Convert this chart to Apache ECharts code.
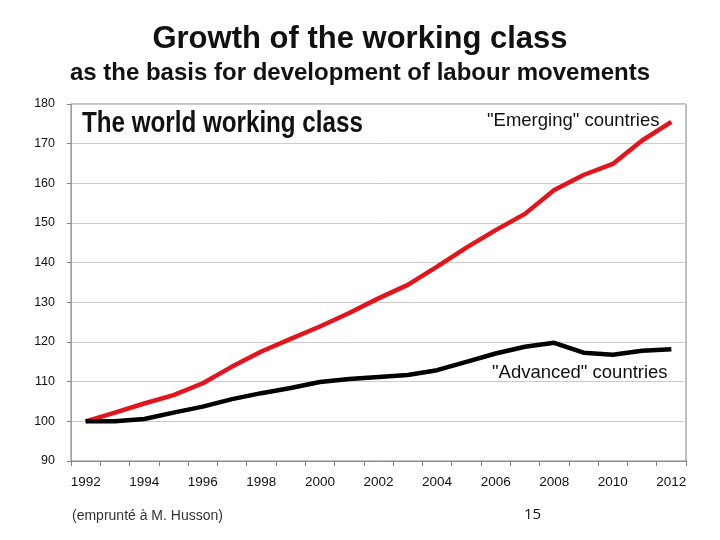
<!DOCTYPE html>
<html><head><meta charset="utf-8">
<script src="https://cdn.jsdelivr.net/npm/echarts@6/dist/echarts.min.js"></script>
<style>html,body{margin:0;padding:0;background:#fff}#c{width:720px;height:540px}</style>
</head><body><div id="c"></div>
<script>
const years = ['1992','1993','1994','1995','1996','1997','1998','1999','2000','2001','2002','2003','2004','2005','2006','2007','2008','2009','2010','2011','2012'];
const emerging = [100,102.2,104.5,106.6,109.6,113.8,117.6,120.8,123.9,127.3,131,134.4,139,143.8,148.2,152.3,158.3,162.1,164.9,170.8,175.5];
const advanced = [100,100,100.6,102.2,103.7,105.6,107.1,108.4,109.9,110.7,111.2,111.7,112.9,115,117.1,118.8,119.8,117.3,116.8,117.8,118.2];
const yTicks = {min:90, max:180, interval:10};

const chart = echarts.init(document.getElementById('c'), null, {renderer:'canvas'});
chart.setOption({
  animation:false,
  backgroundColor:'#fff',
  title:[
    {text:'Growth of the working class', left:'center', top:19, textStyle:{fontFamily:'Liberation Sans', fontWeight:'bold', fontSize:31, color:'#111'}},
    {text:'as the basis for development of labour movements', left:'center', top:56, textStyle:{fontFamily:'Liberation Sans', fontWeight:'bold', fontSize:24, color:'#111'}}
  ],
  grid:{left:71, right:34, top:104, bottom:79, show:true, borderColor:'#808080', borderWidth:1},
  xAxis:{type:'category', data:years, boundaryGap:true,
    axisLine:{lineStyle:{color:'#909090'}},
    axisTick:{show:true, interval:0, length:5, lineStyle:{color:'#808080'}},
    axisLabel:{interval:1, color:'#111', fontFamily:'Liberation Sans', fontSize:13.5, margin:14}},
  yAxis:{type:'value', min:yTicks.min, max:yTicks.max, interval:yTicks.interval,
    axisLine:{show:true, lineStyle:{color:'#a0a0a0'}},
    axisTick:{show:true, length:4, lineStyle:{color:'#808080'}},
    splitLine:{lineStyle:{color:'#cccccc', width:1}},
    axisLabel:{color:'#111', fontFamily:'Liberation Sans', fontSize:12.5, margin:16}},
  series:[
    {name:'"Emerging" countries', type:'line', data:emerging, symbol:'none', lineStyle:{color:'#e3141b', width:4.5}},
    {name:'"Advanced" countries', type:'line', data:advanced, symbol:'none', lineStyle:{color:'#000', width:4.5}}
  ],
  graphic:[
    {type:'text', x:82, y:124, scaleX:0.834, style:{text:'The world working class', font:'bold 29px "Liberation Sans"', fill:'#111', textVerticalAlign:'middle', verticalAlign:'middle'}},
    {type:'text', left:487, top:111, style:{text:'"Emerging" countries', font:'18.5px "Liberation Sans"', fill:'#111'}},
    {type:'text', left:492, top:363, style:{text:'"Advanced" countries', font:'18.5px "Liberation Sans"', fill:'#111'}},
    {type:'text', left:72, top:509, style:{text:'(emprunté à M. Husson)', font:'14px "Liberation Sans"', fill:'#333'}},
    {type:'text', left:524, top:507, style:{text:'15', font:'15px "Open Sans"', fill:'#111'}}
  ]
});
</script></body></html>
